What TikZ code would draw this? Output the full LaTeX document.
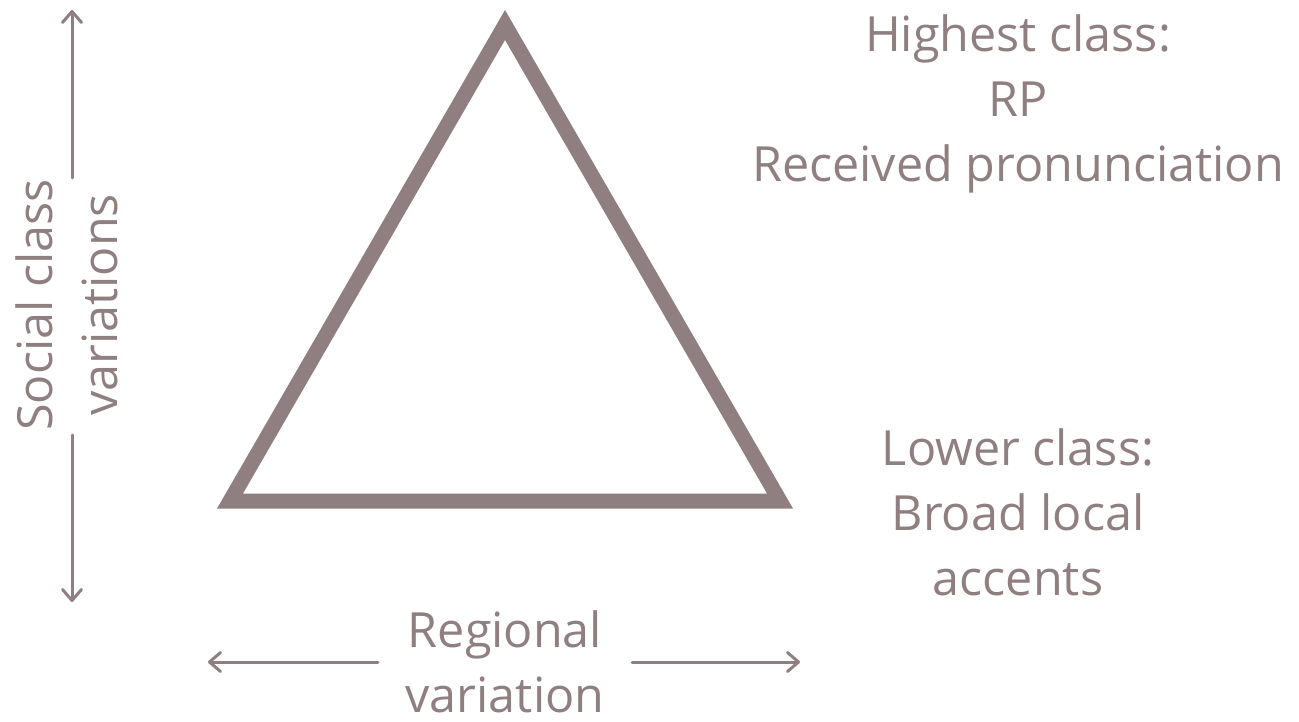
\documentclass[tikz,border=0pt]{standalone}
\usepackage{fontspec}
\setmainfont{Open Sans}
\usetikzlibrary{arrows.meta}
\definecolor{mauve}{RGB}{143,127,128}
\begin{document}
\begin{tikzpicture}[x=1pt,y=-1pt,
  label text/.style={text=mauve, font=\fontsize{48.5}{65}\selectfont, align=center, inner sep=0pt},
  axis arrow/.style={draw=mauve, line width=3pt, line cap=round,
    -{Straight Barb[length=11pt,width=19pt,line cap=round,line join=round]}}]
  \useasboundingbox (0,0) rectangle (1299,722);

  % the triangle
  \draw[mauve, line width=15pt, miter limit=10] (505,25) -- (230,501) -- (780,501) -- cycle;

  % vertical axis: social class (anchored at the baseline of the last line)
  \node[label text, rotate=90, anchor=base] (social) at (117,305) {Social class\\variations};
  \coordinate (vtop) at (72,10);
  \coordinate (vgapT) at (72,178);
  \coordinate (vgapB) at (72,435);
  \coordinate (vbot) at (72,602);
  \draw[axis arrow] (vgapT) -- (vtop);
  \draw[axis arrow] (vgapB) -- (vbot);

  % horizontal axis: regional variation
  \node[label text, anchor=base] (regional) at (505,712) {Regional\\variation};
  \coordinate (hleft) at (208,662);
  \coordinate (hgapL) at (378,662);
  \coordinate (hgapR) at (632,662);
  \coordinate (hright) at (800,662);
  \draw[axis arrow] (hgapL) -- (hleft);
  \draw[axis arrow] (hgapR) -- (hright);

  % class labels
  \node[label text, anchor=base] (high) at (1018,182) {Highest class:\\RP\\Received pronunciation};
  \node[label text, anchor=base] (low) at (1018,595) {Lower class:\\Broad local\\accents};
\end{tikzpicture}
\end{document}
